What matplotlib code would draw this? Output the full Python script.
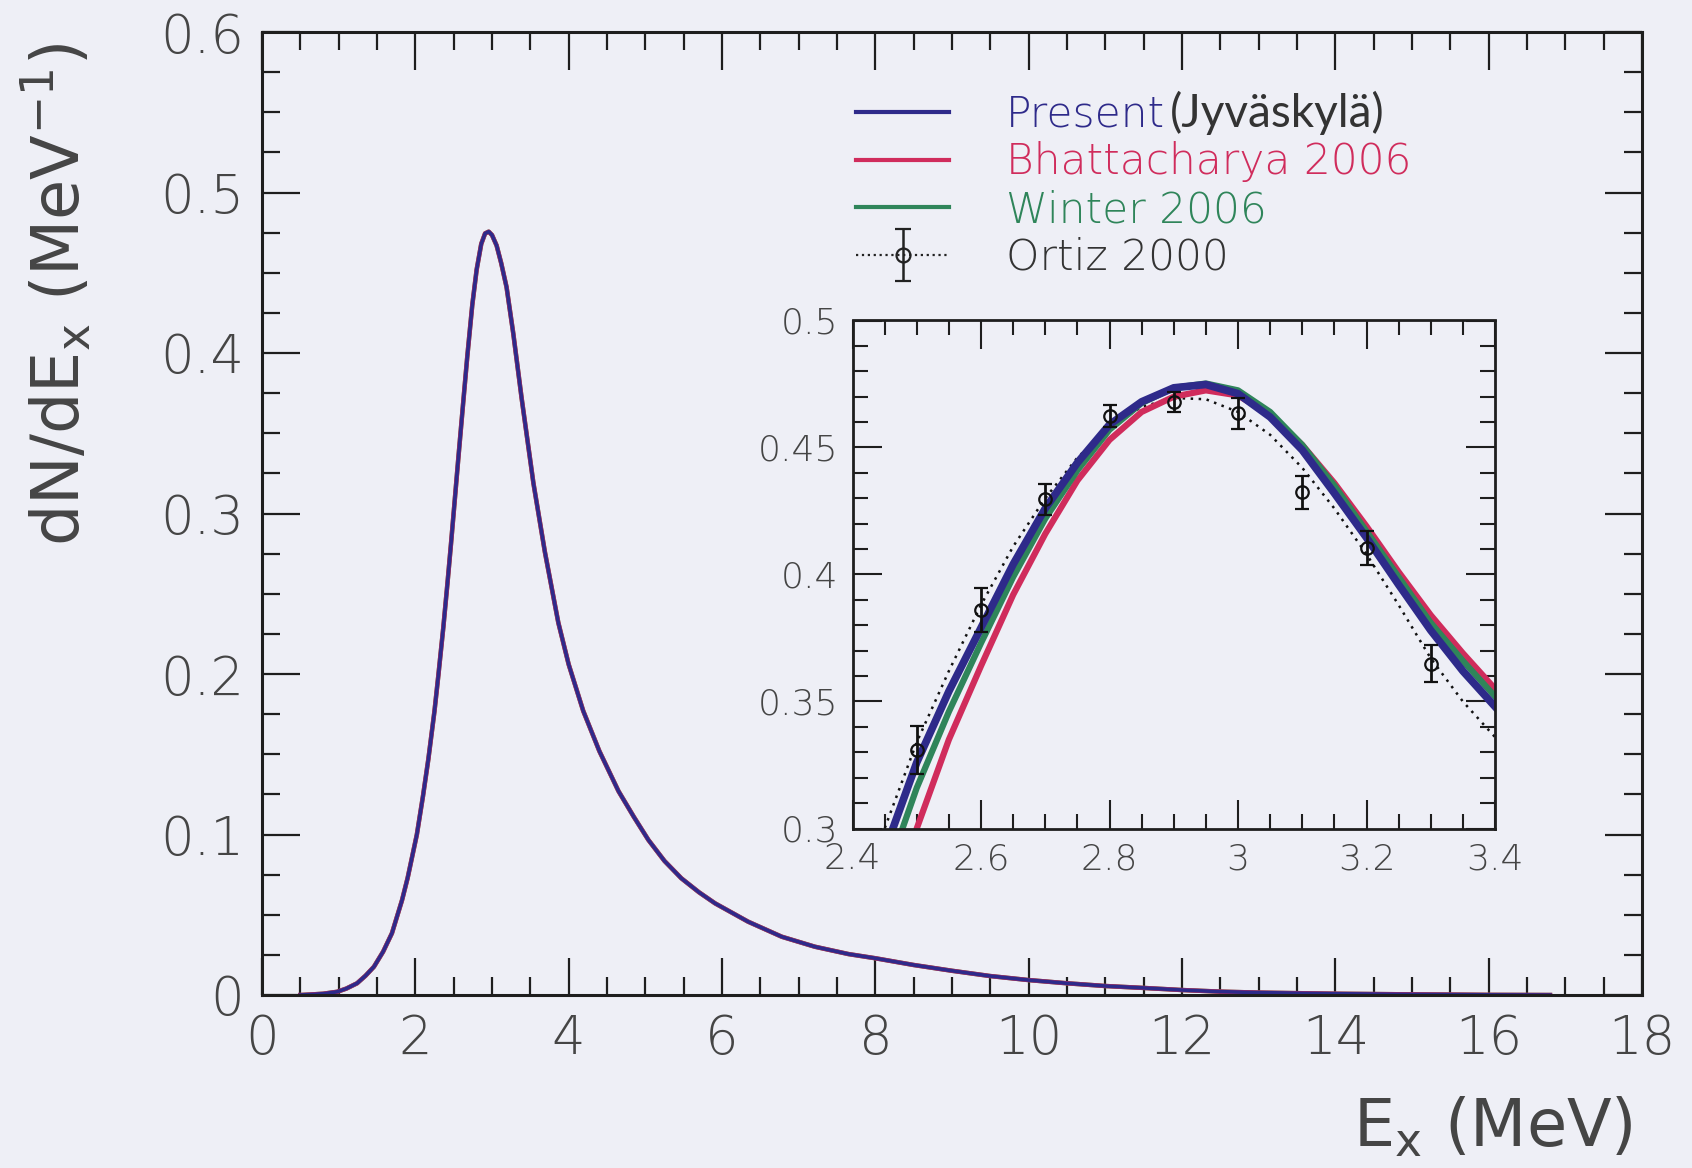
import matplotlib
matplotlib.use("Agg")
import matplotlib.pyplot as plt
from matplotlib.ticker import MultipleLocator, FuncFormatter
from matplotlib.lines import Line2D
from matplotlib.legend_handler import HandlerErrorbar

# ---------------- data ----------------
# main panel: alpha spectrum dN/dEx vs Ex (MeV)
E_main = [0.5, 0.63, 0.8, 0.98, 1.1, 1.24, 1.35, 1.46, 1.58, 1.695, 1.826, 1.9,
          2.02, 2.10, 2.17, 2.25, 2.30, 2.365, 2.42, 2.465, 2.51, 2.56, 2.626,
          2.678, 2.743, 2.80, 2.86, 2.91, 2.957, 3.00, 3.06, 3.12, 3.19, 3.278,
          3.386, 3.54, 3.69, 3.865, 4.0, 4.19, 4.4, 4.65, 4.85, 5.04, 5.25, 5.47,
          5.7, 5.91, 6.34, 6.78, 7.21, 7.65, 8.0, 8.5, 9.0, 9.5, 10.0, 10.5,
          11.0, 11.5, 12.0, 12.5, 13.0, 14.0, 15.0, 16.0, 16.8]
present_main = [0.0, 0.0003, 0.0008, 0.002, 0.004, 0.0073, 0.012, 0.0176, 0.027,
                0.0385, 0.059, 0.073, 0.100, 0.124, 0.147, 0.177, 0.199, 0.229,
                0.257, 0.281, 0.306, 0.334, 0.370, 0.398, 0.430, 0.452, 0.468,
                0.4745, 0.4756, 0.4735, 0.467, 0.456, 0.441, 0.412, 0.372, 0.319,
                0.276, 0.232, 0.206, 0.177, 0.152, 0.127, 0.111, 0.0966, 0.0835,
                0.0727, 0.0640, 0.0571, 0.0457, 0.0363, 0.0301, 0.0255, 0.0229,
                0.0187, 0.0151, 0.0118, 0.0093, 0.0073, 0.0056, 0.0044, 0.0031,
                0.0021, 0.0015, 0.0008, 0.0004, 0.0001, 0.0]
bhatt_main = present_main    # indistinguishable from "Present" at this scale
winter_main = present_main   # indistinguishable from "Present" at this scale

# inset: zoom on the peak
E_inset = [2.40, 2.45, 2.50, 2.55, 2.60, 2.65, 2.70, 2.75, 2.80, 2.85, 2.90,
           2.95, 3.00, 3.05, 3.10, 3.15, 3.20, 3.25, 3.30, 3.35, 3.40]
present_inset = [0.255, 0.291, 0.326, 0.354, 0.379, 0.404, 0.426, 0.444, 0.459,
                 0.468, 0.4735, 0.4748, 0.4712, 0.462, 0.449, 0.432, 0.4145,
                 0.396, 0.378, 0.362, 0.348]
bhatt_inset = [0.220, 0.262, 0.300, 0.335, 0.364, 0.392, 0.416, 0.437, 0.453,
               0.464, 0.470, 0.4725, 0.4705, 0.463, 0.451, 0.436, 0.419, 0.401,
               0.384, 0.369, 0.355]
winter_inset = [0.240, 0.280, 0.316, 0.346, 0.373, 0.399, 0.422, 0.441, 0.457,
                0.4675, 0.4735, 0.4752, 0.4725, 0.464, 0.451, 0.435, 0.417,
                0.399, 0.381, 0.366, 0.352]
ortiz_curve = [0.268, 0.300, 0.334, 0.362, 0.388, 0.411, 0.430, 0.446, 0.458,
               0.466, 0.4695, 0.469, 0.464, 0.455, 0.442, 0.426, 0.408, 0.388,
               0.367, 0.350, 0.336]
# Ortiz 2000 data points
E_ortiz = [2.5, 2.6, 2.7, 2.8, 2.9, 3.0, 3.1, 3.2, 3.3]
y_ortiz = [0.331, 0.386, 0.4296, 0.4624, 0.468, 0.4634, 0.4323, 0.4104, 0.3648]
err_ortiz = [0.0095, 0.0087, 0.006, 0.0045, 0.004, 0.006, 0.0066, 0.0066, 0.0073]

labels = ["Present", "Bhattacharya 2006", "Winter 2006", "Ortiz 2000"]
main_xticks = [0, 2, 4, 6, 8, 10, 12, 14, 16, 18]
main_yticks = [0, 0.1, 0.2, 0.3, 0.4, 0.5, 0.6]

# ---------------- style ----------------
BG = "#eeeff6"
BLUE = "#2e2a8a"
RED = "#d02c5c"
GREEN = "#2f855a"
TXT = "#454545"
AX = "#1e1e1e"

plt.rcParams["font.family"] = ["DejaVu Sans"]
plt.rcParams["font.weight"] = "light"
plt.rcParams["mathtext.default"] = "regular"

fig = plt.figure(figsize=(16.92, 11.68), dpi=100, facecolor=BG)
W, H = 1692.0, 1168.0
ax = fig.add_axes([262 / W, 1 - 995 / H, 1380 / W, 963 / H], facecolor=BG)

ax.plot(E_main, winter_main, color=GREEN, lw=3.2, solid_joinstyle="round")
ax.plot(E_main, bhatt_main, color=RED, lw=3.2, solid_joinstyle="round")
ax.plot(E_main, present_main, color=BLUE, lw=2.6, solid_joinstyle="round")

ax.set_xlim(0, 18)
ax.set_ylim(0, 0.6)
ax.set_xticks(main_xticks)
ax.set_yticks(main_yticks)
ax.xaxis.set_minor_locator(MultipleLocator(0.5))
ax.yaxis.set_minor_locator(MultipleLocator(0.025))
fmt = FuncFormatter(lambda v, p: "0" if abs(v) < 1e-9 else f"{round(v, 3):g}")
ax.xaxis.set_major_formatter(fmt)
ax.yaxis.set_major_formatter(fmt)
ax.tick_params(which="both", direction="in", top=True, right=True,
               color=AX, width=1.6, labelcolor=TXT)
ax.tick_params(which="major", length=27, labelsize=38, pad=13)
ax.tick_params(which="minor", length=13)
for s in ax.spines.values():
    s.set_linewidth(2.2)
    s.set_color(AX)

ax.set_ylabel(r"dN/dE$_\mathregular{x}$ (MeV$^\mathregular{-1}$)", fontsize=47,
              color=TXT)
ax.yaxis.set_label_coords(-0.122, 0.728)
ax.set_xlabel(r"E$_\mathregular{x}$ (MeV)", fontsize=47, color=TXT,
              ha="right", va="center")
ax.xaxis.set_label_coords(0.993, -0.138)

# legend
h_present = Line2D([], [], color=BLUE, lw=3)
h_bhatt = Line2D([], [], color=RED, lw=3)
h_winter = Line2D([], [], color=GREEN, lw=3)
nan = float("nan")
h_ortiz = ax.errorbar([nan], [nan], yerr=[nan], fmt="o", ls=":", color="#222222",
                      mfc="none", ms=10, mew=1.6, lw=1.6, elinewidth=1.8,
                      capsize=6, capthick=1.8)
leg = ax.legend([h_present, h_bhatt, h_winter, h_ortiz], labels,
                loc="upper left", bbox_to_anchor=(0.4304, 0.936),
                frameon=False, fontsize=30.5, handlelength=2.2,
                handletextpad=1.35, labelspacing=0.16, borderpad=0,
                borderaxespad=0,
                handler_map={type(h_ortiz): HandlerErrorbar(yerr_size=0.62)})
for t, c in zip(leg.get_texts(), [BLUE, RED, GREEN, "#333333"]):
    t.set_color(c)
ax.annotate("(Jyväskylä)", xy=(1, 0), xycoords=leg.get_texts()[0],
            xytext=(3, 0), textcoords="offset points", ha="left", va="bottom",
            fontsize=33, fontfamily=["Lato", "DejaVu Sans"], fontweight="normal",
            color="#333333", zorder=20)

# ---------------- inset ----------------
axi = fig.add_axes([852.5 / W, 1 - 828.5 / H, (1495 - 852.5) / W, 508 / H],
                   facecolor=BG)
axi.plot(E_inset, ortiz_curve, color="#111111", lw=1.8, ls=(0, (1, 2.2)))
axi.plot(E_inset, bhatt_inset, color=RED, lw=4.5, solid_joinstyle="round")
axi.plot(E_inset, winter_inset, color=GREEN, lw=4.5, solid_joinstyle="round")
axi.plot(E_inset, present_inset, color=BLUE, lw=5.5, solid_joinstyle="round")
axi.errorbar(E_ortiz, y_ortiz, yerr=err_ortiz, fmt="o", color="#111111",
             mfc="none", ms=9, mew=1.6, elinewidth=2, capsize=5, capthick=2)
axi.set_xlim(2.4, 3.4)
axi.set_ylim(0.3, 0.5)
axi.xaxis.set_major_locator(MultipleLocator(0.2))
axi.xaxis.set_minor_locator(MultipleLocator(0.05))
axi.yaxis.set_major_locator(MultipleLocator(0.05))
axi.yaxis.set_minor_locator(MultipleLocator(0.01))
fmt2 = FuncFormatter(lambda v, p: f"{round(v, 3):g}")
axi.xaxis.set_major_formatter(fmt2)
axi.yaxis.set_major_formatter(fmt2)
axi.tick_params(which="both", direction="in", top=True, right=True,
                color=AX, width=1.5, labelcolor=TXT)
axi.tick_params(which="major", length=21, labelsize=26, pad=10)
axi.tick_params(which="minor", length=11)
for s in axi.spines.values():
    s.set_linewidth(2.0)
    s.set_color(AX)

fig.savefig("out.png", dpi=100, facecolor=BG)
